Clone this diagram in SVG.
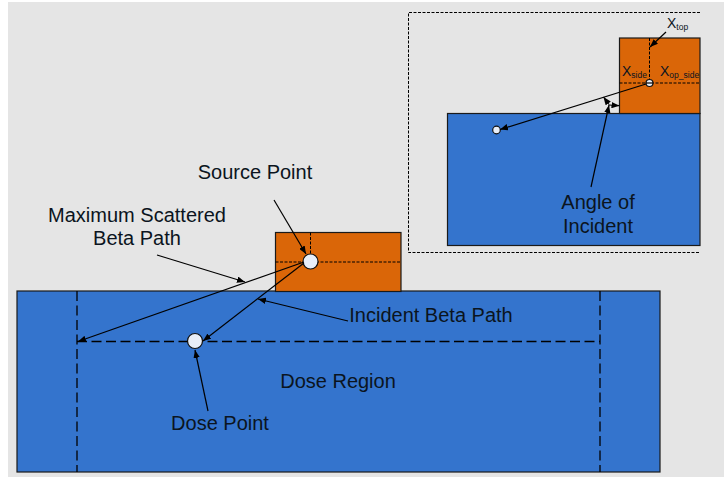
<svg xmlns="http://www.w3.org/2000/svg" width="724" height="477" viewBox="0 0 724 477">
<defs>
<marker id="a" viewBox="0 0 10 8" refX="10" refY="4" markerWidth="8" markerHeight="6.500" markerUnits="userSpaceOnUse" orient="auto-start-reverse"><path d="M0 0L10 4L0 8z" fill="#000"/></marker>
</defs>
<style>
text{font-family:"Liberation Sans",Arial,sans-serif;fill:#0b1420;font-size:20px;text-anchor:middle}
.s{font-size:14px;text-anchor:start}
.sub{font-size:8.500px}
.box{stroke:#1a1a1a;stroke-width:1.2}
.blue{fill:#3474cd}
.or{fill:#da6608}
.c{fill:#e8eef8;stroke:#111;stroke-width:1.2}
.l{fill:none;stroke:#000;stroke-width:1.2}
.ar{marker-end:url(#a)}
.d{fill:none;stroke:#000;stroke-width:1.300;stroke-dasharray:10 4.500}
.f{fill:none;stroke:#000;stroke-width:1;stroke-dasharray:3 1.500}
</style>
<rect width="724" height="477" fill="#fff"/>
<rect x="8" y="2" width="716" height="475" fill="#e5e5e5"/>
<g id="inset-frame"><path class="f" d="M700 12.500H408.500V252.500H700"/></g>
<g id="dose-region"><rect class="box blue" x="17" y="291" width="643" height="181"/>
<path class="d" d="M77 291V472M600 291V472M77 341.500H600"/>
<text x="338" y="388">Dose Region</text></g>
<g id="source-block"><rect class="box or" x="275.500" y="232.500" width="125.500" height="59"/>
<path class="f" d="M310.500 232.500V261.500M275.500 262H401"/></g>
<g id="source-point"><circle class="c" cx="310.500" cy="261.500" r="7.500"/><text x="255" y="179">Source Point</text></g>
<g id="dose-point"><circle class="c" cx="195" cy="341" r="7.500"/><text x="220" y="430">Dose Point</text></g>
<g id="inset-dose"><rect class="box blue" x="447.500" y="113.500" width="252.500" height="132"/></g>
<g id="inset-source"><rect class="box or" x="619.500" y="38" width="80.500" height="75.500"/>
<path class="f" d="M649.500 38V83M619.500 83H700"/></g>
<g id="inset-source-point"><circle class="c" cx="649.500" cy="83" r="3.500"/><path class="l" d="M646 83H653"/></g>
<g id="inset-dose-point"><circle class="c" cx="496.500" cy="130" r="3.800"/></g>
<g id="labels">
<text x="137" y="222">Maximum Scattered</text><text x="137" y="245">Beta Path</text>
<text x="431" y="322">Incident Beta Path</text>
<text x="598" y="209">Angle of</text><text x="598" y="233">Incident</text>
<text class="s" x="667" y="28">X<tspan class="sub" dy="2">top</tspan></text>
<text class="s" x="622" y="76">X<tspan class="sub" dy="2">side</tspan></text>
<text class="s" x="660" y="76">X<tspan class="sub" dy="2">op_side</tspan></text>
</g>
<g id="connectors">
<path class="l ar" d="M274 200L306 254"/>
<path class="l ar" d="M157 255L245 282"/>
<path class="l ar" d="M304 262L78 341.500"/>
<path class="l ar" d="M304 263L203 341"/>
<path class="l ar" d="M348 321L258 299"/>
<path class="l ar" d="M208 411L195 350"/>
<path class="l ar" d="M646 84L500 129.500"/>
<path class="l ar" d="M666 32L650 47"/>
<path class="l ar" d="M591 187L609 105"/>
<path class="l ar" d="M609 104.500L603.500 97"/>
<path class="l ar" d="M609 105L619.500 105.700"/>
</g>
</svg>
